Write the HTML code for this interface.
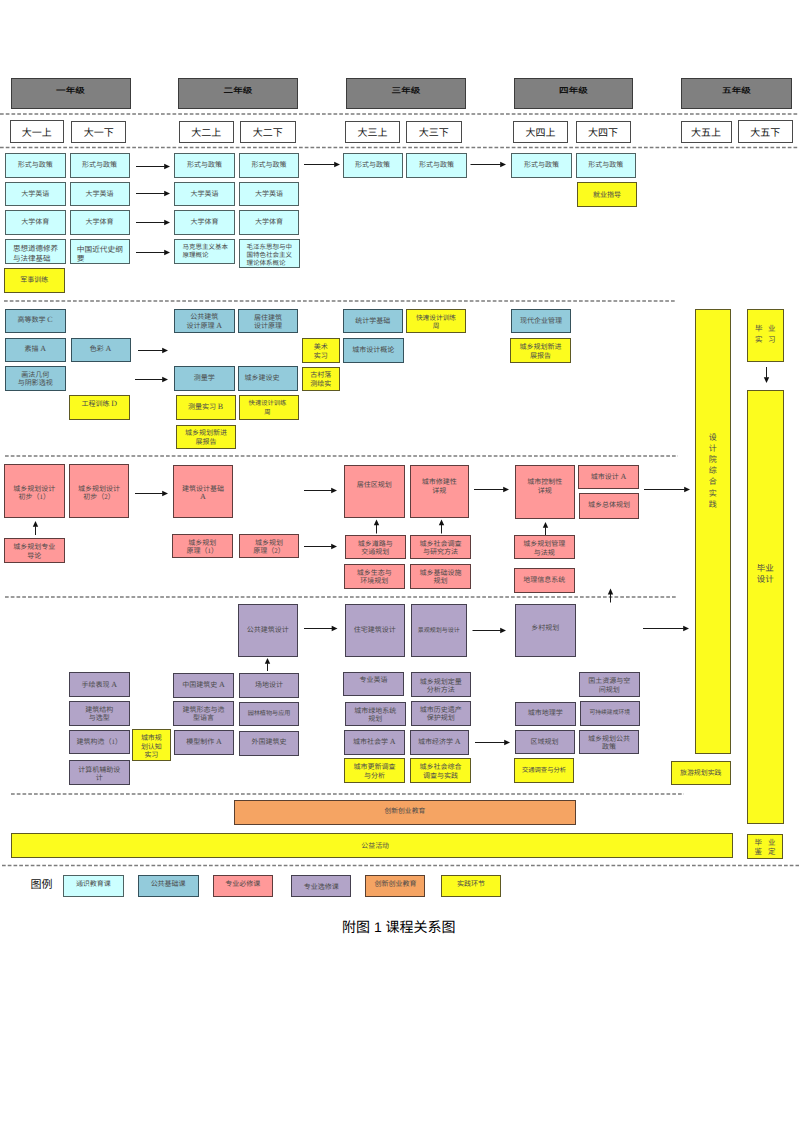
<!DOCTYPE html>
<html lang="zh-CN"><head><meta charset="utf-8"><title>课程关系图</title>
<style>
html,body{margin:0;padding:0;background:#fff;}
body{width:799px;height:1132px;position:relative;overflow:hidden;font-family:"Liberation Serif",serif;text-rendering:geometricPrecision;}
.b{position:absolute;box-sizing:border-box;border:1.7px solid #444;display:flex;align-items:center;justify-content:center;text-align:center;color:#4a4a4a;font-size:7px;line-height:8.5px;white-space:nowrap;}
.b span{display:block;position:relative;}
.b i{font-style:normal;}
.b b{font-size:8px;font-weight:normal;}
.g{position:absolute;box-sizing:border-box;background:#808080;border:1.5px solid #3c3c3c;font-family:"Liberation Sans",sans-serif;font-weight:bold;font-size:9.5px;color:#111;text-align:center;line-height:12px;}
.s{position:absolute;box-sizing:border-box;background:#fff;border:1.5px solid #4a4a4a;display:flex;align-items:center;justify-content:center;font-family:"Liberation Sans",sans-serif;font-size:10px;color:#111;}
.d{position:absolute;height:2px;background:repeating-linear-gradient(90deg,#7a7a7a 0 4px,transparent 4px 5.75px);}
svg{position:absolute;left:0;top:0;}
</style></head><body>

<div class="g" style="left:10.5px;top:78px;width:120px;height:30.5px;padding-top:6.3px"><span style="display:inline-block;transform:scaleY(0.8);letter-spacing:0.2px">一年级</span></div>
<div class="g" style="left:178px;top:78px;width:120px;height:30.5px;padding-top:6.3px"><span style="display:inline-block;transform:scaleY(0.8);letter-spacing:0.2px">二年级</span></div>
<div class="g" style="left:346px;top:78px;width:120px;height:30.5px;padding-top:6.3px"><span style="display:inline-block;transform:scaleY(0.8);letter-spacing:0.2px">三年级</span></div>
<div class="g" style="left:514px;top:78px;width:119px;height:30.5px;padding-top:6.3px"><span style="display:inline-block;transform:scaleY(0.8);letter-spacing:0.2px">四年级</span></div>
<div class="g" style="left:681px;top:78px;width:111px;height:30.5px;padding-top:6.3px"><span style="display:inline-block;transform:scaleY(0.8);letter-spacing:0.2px">五年级</span></div>
<div class="s" style="left:9.5px;top:120.3px;width:54.4px;height:22.6px">大一上</div>
<div class="s" style="left:71px;top:120.6px;width:55.3px;height:22.4px">大一下</div>
<div class="s" style="left:179px;top:120.6px;width:54.5px;height:22.4px">大二上</div>
<div class="s" style="left:240px;top:120.6px;width:55.5px;height:22.4px">大二下</div>
<div class="s" style="left:345px;top:120.6px;width:55px;height:22.4px">大三上</div>
<div class="s" style="left:406px;top:120.6px;width:55.5px;height:22.4px">大三下</div>
<div class="s" style="left:513px;top:120.6px;width:55px;height:22.4px">大四上</div>
<div class="s" style="left:575.5px;top:120.6px;width:55px;height:22.4px">大四下</div>
<div class="s" style="left:680.5px;top:120.6px;width:51px;height:22.4px">大五上</div>
<div class="s" style="left:737.5px;top:120px;width:55.5px;height:23px">大五下</div>
<div class="b" style="left:5px;top:153px;width:60.5px;height:24.5px;background:#ccffff;border-color:#4f6262;"><span style="top:0.45px;">形式与政策</span></div>
<div class="b" style="left:69.5px;top:153px;width:60px;height:24.5px;background:#ccffff;border-color:#4f6262;"><span style="top:0.45px;">形式与政策</span></div>
<div class="b" style="left:174px;top:153px;width:61px;height:24.5px;background:#ccffff;border-color:#4f6262;"><span style="top:0.45px;">形式与政策</span></div>
<div class="b" style="left:239px;top:153px;width:60px;height:24.5px;background:#ccffff;border-color:#4f6262;"><span style="top:0.45px;">形式与政策</span></div>
<div class="b" style="left:342.5px;top:153px;width:60px;height:24.5px;background:#ccffff;border-color:#4f6262;"><span style="top:0.45px;">形式与政策</span></div>
<div class="b" style="left:406px;top:153px;width:61px;height:24.5px;background:#ccffff;border-color:#4f6262;"><span style="top:0.45px;">形式与政策</span></div>
<div class="b" style="left:511px;top:153px;width:61px;height:24.5px;background:#ccffff;border-color:#4f6262;"><span style="top:0.45px;">形式与政策</span></div>
<div class="b" style="left:575.5px;top:153px;width:60.5px;height:24.5px;background:#ccffff;border-color:#4f6262;"><span style="top:0.45px;">形式与政策</span></div>
<div class="b" style="left:5px;top:181.5px;width:60.5px;height:24.5px;background:#ccffff;border-color:#4f6262;"><span style="top:0.45px;">大学英语</span></div>
<div class="b" style="left:5px;top:210px;width:60.5px;height:25px;background:#ccffff;border-color:#4f6262;"><span style="top:0.2px;">大学体育</span></div>
<div class="b" style="left:69.5px;top:181.5px;width:60px;height:24.5px;background:#ccffff;border-color:#4f6262;"><span style="top:0.45px;">大学英语</span></div>
<div class="b" style="left:69.5px;top:210px;width:60px;height:25px;background:#ccffff;border-color:#4f6262;"><span style="top:0.2px;">大学体育</span></div>
<div class="b" style="left:174px;top:181.5px;width:61px;height:24.5px;background:#ccffff;border-color:#4f6262;"><span style="top:0.45px;">大学英语</span></div>
<div class="b" style="left:174px;top:210px;width:61px;height:25px;background:#ccffff;border-color:#4f6262;"><span style="top:0.2px;">大学体育</span></div>
<div class="b" style="left:239px;top:181.5px;width:60px;height:24.5px;background:#ccffff;border-color:#4f6262;"><span style="top:0.45px;">大学英语</span></div>
<div class="b" style="left:239px;top:210px;width:60px;height:25px;background:#ccffff;border-color:#4f6262;"><span style="top:0.2px;">大学体育</span></div>
<div class="b" style="left:5px;top:238.5px;width:60.5px;height:25.5px;background:#ccffff;border-color:#4f6262;font-size:7.5px;line-height:9.5px;justify-content:flex-start;text-align:left;padding-left:6.9px;"><span style="top:2.65px;">思想道德修养<br>与法律基础</span></div>
<div class="b" style="left:69.5px;top:238.5px;width:60px;height:25.5px;background:#ccffff;border-color:#4f6262;font-size:7.7px;line-height:9.5px;justify-content:flex-start;text-align:left;padding-left:6.3px;"><span style="top:3.15px;">中国近代史纲<br>要</span></div>
<div class="b" style="left:174px;top:238.5px;width:61px;height:25px;background:#ccffff;border-color:#4f6262;font-size:6.5px;line-height:7.9px;justify-content:flex-start;text-align:left;padding-left:7.5px;"><span style="top:0.7px;">马克思主义基本<br>原理概论</span></div>
<div class="b" style="left:239px;top:238.5px;width:60.5px;height:29.5px;background:#ccffff;border-color:#4f6262;font-size:6.5px;line-height:7.9px;justify-content:flex-start;text-align:left;padding-left:6.5px;"><span style="top:2.75px;">毛泽东思想与中<br>国特色社会主义<br>理论体系概论</span></div>
<div class="b" style="left:4px;top:267.5px;width:60.5px;height:25px;background:#fcfc1e;border-color:#5f5a22;"><span style="top:0.2px;">军事训练</span></div>
<div class="b" style="left:577px;top:182px;width:60px;height:25px;background:#fcfc1e;border-color:#5f5a22;"><span style="top:0.5px;">就业指导</span></div>
<div class="b" style="left:4.5px;top:309px;width:61px;height:24px;background:#93cbdb;border-color:#36525c;"><span style="top:-0.3px;">高等数学 <b>C</b></span></div>
<div class="b" style="left:5px;top:337.5px;width:60.5px;height:24.5px;background:#93cbdb;border-color:#36525c;"><span style="top:-0.3px;">素描 <b>A</b></span></div>
<div class="b" style="left:70.5px;top:337.5px;width:60px;height:24.5px;background:#93cbdb;border-color:#36525c;"><span style="top:-0.3px;">色彩 <b>A</b></span></div>
<div class="b" style="left:5px;top:366px;width:60.5px;height:25px;background:#93cbdb;border-color:#36525c;"><span style="top:0.95px;">画法几何<br>与阴影透视</span></div>
<div class="b" style="left:69px;top:395px;width:60.5px;height:24.5px;background:#fcfc1e;border-color:#5f5a22;"><span style="top:-2.8px;">工程训练 <b>D</b></span></div>
<div class="b" style="left:174px;top:309px;width:60.5px;height:24px;background:#93cbdb;border-color:#36525c;"><span style="top:0.6px;">公共建筑<br>设计原理 <b>A</b></span></div>
<div class="b" style="left:238px;top:309px;width:60px;height:24px;background:#93cbdb;border-color:#36525c;"><span style="top:1.2px;">居住建筑<br>设计原理</span></div>
<div class="b" style="left:302px;top:338px;width:37.5px;height:24.5px;background:#fcfc1e;border-color:#5f5a22;"><span style="top:1.7px;">美术<br>实习</span></div>
<div class="b" style="left:302px;top:367px;width:37.5px;height:24px;background:#fcfc1e;border-color:#5f5a22;"><span style="top:0.8px;">古村落<br>测绘实</span></div>
<div class="b" style="left:174px;top:366px;width:60.5px;height:25px;background:#93cbdb;border-color:#36525c;"><span style="top:0.2px;">测量学</span></div>
<div class="b" style="left:238px;top:366px;width:60px;height:25px;background:#93cbdb;border-color:#36525c;justify-content:flex-start;text-align:left;padding-left:5.5px;"><span style="top:0.2px;">城乡建设史</span></div>
<div class="b" style="left:175.5px;top:395px;width:60px;height:24.5px;background:#fcfc1e;border-color:#5f5a22;"><span style="top:0.2px;">测量实习 <b>B</b></span></div>
<div class="b" style="left:239px;top:395px;width:60px;height:24.5px;background:#fcfc1e;border-color:#5f5a22;font-size:6.3px;"><span style="top:1.35px;left:-1.5px;">快速设计训练<br>周</span></div>
<div class="b" style="left:176px;top:424.5px;width:60px;height:24.5px;background:#fcfc1e;border-color:#5f5a22;"><span style="top:0.85px;">城乡规划新进<br>展报告</span></div>
<div class="b" style="left:342.5px;top:309px;width:60.5px;height:24px;background:#93cbdb;border-color:#36525c;"><span style="top:0.2px;">统计学基础</span></div>
<div class="b" style="left:406px;top:309px;width:60px;height:24px;background:#fcfc1e;border-color:#5f5a22;font-size:6.7px;"><span style="top:2px;">快速设计训练<br>周</span></div>
<div class="b" style="left:342.5px;top:337.5px;width:61.5px;height:25px;background:#93cbdb;border-color:#36525c;"><span style="top:-0.05px;">城市设计概论</span></div>
<div class="b" style="left:511px;top:309px;width:60px;height:24px;background:#93cbdb;border-color:#36525c;"><span style="top:0.2px;">现代企业管理</span></div>
<div class="b" style="left:510px;top:338px;width:61px;height:25px;background:#fcfc1e;border-color:#5f5a22;"><span style="top:1.45px;">城乡规划新进<br>展报告</span></div>
<div class="b" style="left:4px;top:464px;width:60.5px;height:53.5px;background:#ff9999;border-color:#5e3d3d;"><span style="top:2.35px;">城乡规划设计<br>初步（1）</span></div>
<div class="b" style="left:69px;top:464px;width:60px;height:53.5px;background:#ff9999;border-color:#5e3d3d;"><span style="top:2.35px;">城乡规划设计<br>初步（2）</span></div>
<div class="b" style="left:4px;top:538px;width:60.5px;height:24.5px;background:#ff9999;border-color:#5e3d3d;"><span style="top:1.55px;">城乡规划专业<br>导论</span></div>
<div class="b" style="left:173px;top:464.5px;width:60px;height:53px;background:#ff9999;border-color:#5e3d3d;"><span style="top:2.1px;">建筑设计基础<br><b>A</b></span></div>
<div class="b" style="left:172px;top:534px;width:60.5px;height:24px;background:#ff9999;border-color:#5e3d3d;"><span style="top:1.3px;">城乡规划<br>原理（1）</span></div>
<div class="b" style="left:239px;top:534px;width:60px;height:24px;background:#ff9999;border-color:#5e3d3d;"><span style="top:1.3px;">城乡规划<br>原理（2）</span></div>
<div class="b" style="left:344px;top:464.5px;width:60.5px;height:53px;background:#ff9999;border-color:#5e3d3d;"><span style="top:-5.8px;">居住区规划</span></div>
<div class="b" style="left:409.5px;top:464.5px;width:59.5px;height:53px;background:#ff9999;border-color:#5e3d3d;"><span style="top:-4.05px;">城市修建性<br>详规</span></div>
<div class="b" style="left:345px;top:534.5px;width:60.5px;height:24.5px;background:#ff9999;border-color:#5e3d3d;"><span style="top:1.35px;">城乡道路与<br>交通规划</span></div>
<div class="b" style="left:410px;top:534.5px;width:61px;height:24.5px;background:#ff9999;border-color:#5e3d3d;"><span style="top:1.35px;">城乡社会调查<br>与研究方法</span></div>
<div class="b" style="left:344px;top:564px;width:60.5px;height:25px;background:#ff9999;border-color:#5e3d3d;"><span style="top:0.8px;">城乡生态与<br>环境规划</span></div>
<div class="b" style="left:410px;top:564px;width:61px;height:25px;background:#ff9999;border-color:#5e3d3d;"><span style="top:0.8px;">城乡基础设施<br>规划</span></div>
<div class="b" style="left:515px;top:465px;width:59.5px;height:54px;background:#ff9999;border-color:#5e3d3d;"><span style="top:-5.05px;">城市控制性<br>详规</span></div>
<div class="b" style="left:578px;top:465px;width:61px;height:24px;background:#ff9999;border-color:#5e3d3d;"><span style="top:-0.05px;">城市设计 <b>A</b></span></div>
<div class="b" style="left:579px;top:493px;width:60px;height:26px;background:#ff9999;border-color:#5e3d3d;"><span style="top:-0.8px;">城乡总体规划</span></div>
<div class="b" style="left:514px;top:535px;width:60.5px;height:24px;background:#ff9999;border-color:#5e3d3d;"><span style="top:1.6px;">城乡规划管理<br>与法规</span></div>
<div class="b" style="left:514px;top:568px;width:60.5px;height:24.5px;background:#ff9999;border-color:#5e3d3d;"><span style="top:-0.05px;">地理信息系统</span></div>
<div class="b" style="left:237.5px;top:604px;width:60.5px;height:53px;background:#b2a4c8;border-color:#45404f;"><span style="top:-0.4px;">公共建筑设计</span></div>
<div class="b" style="left:345px;top:604px;width:59.5px;height:53px;background:#b2a4c8;border-color:#45404f;"><span style="top:-0.6px;">住宅建筑设计</span></div>
<div class="b" style="left:410.5px;top:604px;width:56.5px;height:53px;background:#b2a4c8;border-color:#45404f;font-size:6px;"><span style="top:1.1px;">景观规划与设计</span></div>
<div class="b" style="left:515px;top:604px;width:60.5px;height:53px;background:#b2a4c8;border-color:#45404f;"><span style="top:-2.5px;">乡村规划</span></div>
<div class="b" style="left:69px;top:672px;width:60.5px;height:25px;background:#b2a4c8;border-color:#45404f;"><span style="top:0.45px;">手绘表现 <b>A</b></span></div>
<div class="b" style="left:69px;top:700.75px;width:60.5px;height:24.75px;background:#b2a4c8;border-color:#45404f;"><span style="top:1.32px;">建筑结构<br>与选型</span></div>
<div class="b" style="left:69px;top:729.5px;width:60.5px;height:24.5px;background:#b2a4c8;border-color:#45404f;"><span style="top:0.2px;">建筑构造（1）</span></div>
<div class="b" style="left:69px;top:760px;width:60.5px;height:25px;background:#b2a4c8;border-color:#45404f;"><span style="top:1.6px;">计算机辅助设<br>计</span></div>
<div class="b" style="left:132px;top:729px;width:38.75px;height:31.75px;background:#fcfc1e;border-color:#5f5a22;"><span style="top:2.08px;">城市规<br>划认知<br>实习</span></div>
<div class="b" style="left:173px;top:673px;width:61px;height:24.5px;background:#b2a4c8;border-color:#45404f;"><span style="top:0.45px;">中国建筑史 <b>A</b></span></div>
<div class="b" style="left:173px;top:701px;width:61px;height:24.5px;background:#b2a4c8;border-color:#45404f;"><span style="top:1.05px;">建筑形态与造<br>型语言</span></div>
<div class="b" style="left:174px;top:730px;width:60px;height:24.5px;background:#b2a4c8;border-color:#45404f;"><span style="top:-0.3px;">模型制作 <b>A</b></span></div>
<div class="b" style="left:239px;top:673px;width:60px;height:24.5px;background:#b2a4c8;border-color:#45404f;"><span style="top:0.45px;">场地设计</span></div>
<div class="b" style="left:239px;top:702px;width:60px;height:24px;background:#b2a4c8;border-color:#45404f;font-size:6.1px;"><span style="top:0.6px;">园林植物与应用</span></div>
<div class="b" style="left:239px;top:731px;width:60px;height:24.5px;background:#b2a4c8;border-color:#45404f;"><span style="top:-0.8px;">外国建筑史</span></div>
<div class="b" style="left:343px;top:672px;width:61px;height:24px;background:#b2a4c8;border-color:#45404f;"><span style="top:-3.3px;">专业英语</span></div>
<div class="b" style="left:410.5px;top:672.2px;width:60.5px;height:25px;background:#b2a4c8;border-color:#45404f;"><span style="top:1.4px;">城乡规划定量<br>分析方法</span></div>
<div class="b" style="left:345px;top:702px;width:60.5px;height:24px;background:#b2a4c8;border-color:#45404f;"><span style="top:1.3px;">城市绿地系统<br>规划</span></div>
<div class="b" style="left:410.5px;top:701px;width:60.5px;height:24.5px;background:#b2a4c8;border-color:#45404f;"><span style="top:1.2px;">城市历史遗产<br>保护规划</span></div>
<div class="b" style="left:344px;top:730px;width:60.5px;height:24.5px;background:#b2a4c8;border-color:#45404f;"><span style="top:-0.3px;">城市社会学 <b>A</b></span></div>
<div class="b" style="left:409.5px;top:730px;width:59.5px;height:24.5px;background:#b2a4c8;border-color:#45404f;"><span style="top:-0.3px;">城市经济学 <b>A</b></span></div>
<div class="b" style="left:344px;top:758px;width:61px;height:25px;background:#fcfc1e;border-color:#5f5a22;"><span style="top:1.45px;">城市更新调查<br>与分析</span></div>
<div class="b" style="left:410px;top:758px;width:61px;height:25px;background:#fcfc1e;border-color:#5f5a22;"><span style="top:1.45px;">城乡社会综合<br>调查与实践</span></div>
<div class="b" style="left:579px;top:672px;width:60.5px;height:25px;background:#b2a4c8;border-color:#45404f;"><span style="top:1.1px;">国土资源与空<br>间规划</span></div>
<div class="b" style="left:515px;top:702px;width:60.5px;height:24px;background:#b2a4c8;border-color:#45404f;"><span style="top:-0.3px;">城市地理学</span></div>
<div class="b" style="left:579.5px;top:701px;width:60.5px;height:24.5px;background:#b2a4c8;border-color:#45404f;font-size:5.8px;"><span style="top:-0.05px;">可持续建成环境</span></div>
<div class="b" style="left:514.5px;top:730px;width:60px;height:24px;background:#b2a4c8;border-color:#45404f;"><span style="top:-0.05px;">区域规划</span></div>
<div class="b" style="left:579px;top:730px;width:60px;height:24px;background:#b2a4c8;border-color:#45404f;"><span style="top:1.1px;">城乡规划公共<br>政策</span></div>
<div class="b" style="left:514px;top:758px;width:60px;height:25px;background:#fcfc1e;border-color:#5f5a22;font-size:6.3px;"><span style="top:1.1px;">交通调查与分析</span></div>
<div class="b" style="left:670.5px;top:760.5px;width:60.5px;height:24.5px;background:#fcfc1e;border-color:#5f5a22;font-size:6.9px;"><span style="top:1.35px;">旅游规划实践</span></div>
<div class="b" style="left:694.6px;top:309px;width:36.4px;height:445px;background:#fcfc1e;border-color:#5f5a22;font-size:8px;line-height:11.1px;"><span style="top:-60.6px;">设<br>计<br>院<br>综<br>合<br>实<br>践</span></div>
<div class="b" style="left:747px;top:309px;width:36.5px;height:53px;background:#fcfc1e;border-color:#5f5a22;font-size:7.5px;line-height:11px;"><span style="top:-1.9px;"><i style="margin:0 2.75px">毕</i><i style="margin:0 2.75px">业</i><br><i style="margin:0 2.75px">实</i><i style="margin:0 2.75px">习</i></span></div>
<div class="b" style="left:747px;top:390.3px;width:36.5px;height:434.2px;background:#fcfc1e;border-color:#5f5a22;font-size:8.5px;line-height:11.4px;"><span style="top:-33.2px;">毕业<br>设计</span></div>
<div class="b" style="left:747px;top:834px;width:36px;height:24.5px;background:#fcfc1e;border-color:#5f5a22;font-size:7.5px;line-height:9px;"><span style="top:0.35px;"><i style="margin:0 3px">毕</i><i style="margin:0 3px">业</i><br><i style="margin:0 3px">鉴</i><i style="margin:0 3px">定</i></span></div>
<div class="b" style="left:234px;top:800px;width:341.75px;height:25px;background:#f5a463;border-color:#5a4030;font-size:6.8px;"><span style="top:-0.6px;">创新创业教育</span></div>
<div class="b" style="left:10.5px;top:833px;width:722.5px;height:25px;background:#fcfc1e;border-color:#5f5a22;font-size:6.9px;"><span style="top:1.3px;left:3.4px;">公益活动</span></div>
<div class="b" style="left:63px;top:875px;width:60.75px;height:22px;background:#ccffff;border-color:#4f6262;font-size:7px;"><span style="top:-1.3px;">通识教育课</span></div>
<div class="b" style="left:137.5px;top:875px;width:61.25px;height:22px;background:#93cbdb;border-color:#36525c;font-size:7px;"><span style="top:-1.3px;">公共基础课</span></div>
<div class="b" style="left:212.8px;top:875px;width:60.1px;height:22px;background:#ff9999;border-color:#5e3d3d;font-size:7px;"><span style="top:-1.3px;">专业必修课</span></div>
<div class="b" style="left:291.3px;top:875px;width:60.1px;height:22px;background:#b2a4c8;border-color:#45404f;font-size:7px;"><span style="top:1.7px;">专业选修课</span></div>
<div class="b" style="left:365.4px;top:875px;width:60.1px;height:22px;background:#f5a463;border-color:#5a4030;font-size:7px;"><span style="top:-1.3px;">创新创业教育</span></div>
<div class="b" style="left:441px;top:875px;width:60.2px;height:22px;background:#fcfc1e;border-color:#5f5a22;font-size:7px;"><span style="top:-1.3px;">实践环节</span></div>
<svg width="799" height="1132" viewBox="0 0 799 1132">
<line x1="0" y1="114" x2="799" y2="114" stroke="#7c7c7c" stroke-width="1.5" stroke-dasharray="3.7 2.05"/>
<line x1="0" y1="147.5" x2="799" y2="147.5" stroke="#7c7c7c" stroke-width="1.5" stroke-dasharray="3.7 2.05"/>
<line x1="4" y1="301" x2="676" y2="301" stroke="#7c7c7c" stroke-width="1.5" stroke-dasharray="3.7 2.05"/>
<line x1="5" y1="456" x2="678" y2="456" stroke="#7c7c7c" stroke-width="1.5" stroke-dasharray="3.7 2.05"/>
<line x1="5" y1="597" x2="676" y2="597" stroke="#7c7c7c" stroke-width="1.5" stroke-dasharray="3.7 2.05"/>
<line x1="11" y1="794" x2="684" y2="794" stroke="#7c7c7c" stroke-width="1.5" stroke-dasharray="3.7 2.05"/>
<line x1="2" y1="865.5" x2="799" y2="865.5" stroke="#7c7c7c" stroke-width="1.5" stroke-dasharray="3.7 2.05"/>
<line x1="136" y1="166.5" x2="164.7" y2="166.5" stroke="#1a1a1a" stroke-width="1.05"/>
<polygon points="170,166.5 164.2,169.2 164.2,163.8" fill="#111"/>
<line x1="304" y1="164.5" x2="334.7" y2="164.5" stroke="#1a1a1a" stroke-width="1.05"/>
<polygon points="340,164.5 334.2,167.2 334.2,161.8" fill="#111"/>
<line x1="470.5" y1="164.5" x2="500.7" y2="164.5" stroke="#1a1a1a" stroke-width="1.05"/>
<polygon points="506,164.5 500.2,167.2 500.2,161.8" fill="#111"/>
<line x1="136" y1="193.5" x2="164.7" y2="193.5" stroke="#1a1a1a" stroke-width="1.05"/>
<polygon points="170,193.5 164.2,196.2 164.2,190.8" fill="#111"/>
<line x1="136" y1="222.5" x2="164.7" y2="222.5" stroke="#1a1a1a" stroke-width="1.05"/>
<polygon points="170,222.5 164.2,225.2 164.2,219.8" fill="#111"/>
<line x1="136" y1="252.5" x2="164.7" y2="252.5" stroke="#1a1a1a" stroke-width="1.05"/>
<polygon points="170,252.5 164.2,255.2 164.2,249.8" fill="#111"/>
<line x1="138" y1="350.5" x2="162.7" y2="350.5" stroke="#1a1a1a" stroke-width="1.05"/>
<polygon points="168,350.5 162.2,353.2 162.2,347.8" fill="#111"/>
<line x1="135" y1="379.5" x2="162.7" y2="379.5" stroke="#1a1a1a" stroke-width="1.05"/>
<polygon points="168,379.5 162.2,382.2 162.2,376.8" fill="#111"/>
<line x1="135" y1="493.5" x2="162.7" y2="493.5" stroke="#1a1a1a" stroke-width="1.05"/>
<polygon points="168,493.5 162.2,496.2 162.2,490.8" fill="#111"/>
<line x1="304" y1="490.5" x2="331.7" y2="490.5" stroke="#1a1a1a" stroke-width="1.05"/>
<polygon points="337,490.5 331.2,493.2 331.2,487.8" fill="#111"/>
<line x1="304" y1="546.5" x2="331.7" y2="546.5" stroke="#1a1a1a" stroke-width="1.05"/>
<polygon points="337,546.5 331.2,549.2 331.2,543.8" fill="#111"/>
<line x1="474" y1="489.5" x2="503.7" y2="489.5" stroke="#1a1a1a" stroke-width="1.05"/>
<polygon points="509,489.5 503.2,492.2 503.2,486.8" fill="#111"/>
<line x1="644" y1="489.5" x2="684.7" y2="489.5" stroke="#1a1a1a" stroke-width="1.05"/>
<polygon points="690,489.5 684.2,492.2 684.2,486.8" fill="#111"/>
<line x1="35.5" y1="535" x2="35.5" y2="526.3" stroke="#1a1a1a" stroke-width="1.05"/>
<polygon points="35.5,521 38.2,526.8 32.8,526.8" fill="#111"/>
<line x1="376.5" y1="533.5" x2="376.5" y2="524.8" stroke="#1a1a1a" stroke-width="1.05"/>
<polygon points="376.5,519.5 379.2,525.3 373.8,525.3" fill="#111"/>
<line x1="441.5" y1="533.5" x2="441.5" y2="524.8" stroke="#1a1a1a" stroke-width="1.05"/>
<polygon points="441.5,519.5 444.2,525.3 438.8,525.3" fill="#111"/>
<line x1="545.5" y1="535" x2="545.5" y2="527.3" stroke="#1a1a1a" stroke-width="1.05"/>
<polygon points="545.5,522 548.2,527.8 542.8,527.8" fill="#111"/>
<line x1="610.5" y1="602.5" x2="610.5" y2="593.9" stroke="#1a1a1a" stroke-width="1.05"/>
<polygon points="610.5,588.6 613.2,594.4 607.8,594.4" fill="#111"/>
<line x1="304" y1="628.5" x2="332.2" y2="628.5" stroke="#1a1a1a" stroke-width="1.05"/>
<polygon points="337.5,628.5 331.7,631.2 331.7,625.8" fill="#111"/>
<line x1="472.5" y1="630.5" x2="500.7" y2="630.5" stroke="#1a1a1a" stroke-width="1.05"/>
<polygon points="506,630.5 500.2,633.2 500.2,627.8" fill="#111"/>
<line x1="643" y1="628.5" x2="683.7" y2="628.5" stroke="#1a1a1a" stroke-width="1.05"/>
<polygon points="689,628.5 683.2,631.2 683.2,625.8" fill="#111"/>
<line x1="267.5" y1="671" x2="267.5" y2="663.3" stroke="#1a1a1a" stroke-width="1.05"/>
<polygon points="267.5,658 270.2,663.8 264.8,663.8" fill="#111"/>
<line x1="475" y1="742.5" x2="504.7" y2="742.5" stroke="#1a1a1a" stroke-width="1.05"/>
<polygon points="510,742.5 504.2,745.2 504.2,739.8" fill="#111"/>
<line x1="766.5" y1="367" x2="766.5" y2="377.7" stroke="#1a1a1a" stroke-width="1.05"/>
<polygon points="766.5,383 763.8,377.2 769.2,377.2" fill="#111"/>
</svg>
<div style="position:absolute;left:30.5px;top:877.5px;font-family:'Liberation Sans',sans-serif;font-size:11px;color:#111;line-height:14px">图例</div>
<div style="position:absolute;left:342px;top:918px;font-family:'Liberation Sans',sans-serif;font-size:14px;color:#000;line-height:18px;white-space:nowrap">附图 1 课程关系图</div>
</body></html>
